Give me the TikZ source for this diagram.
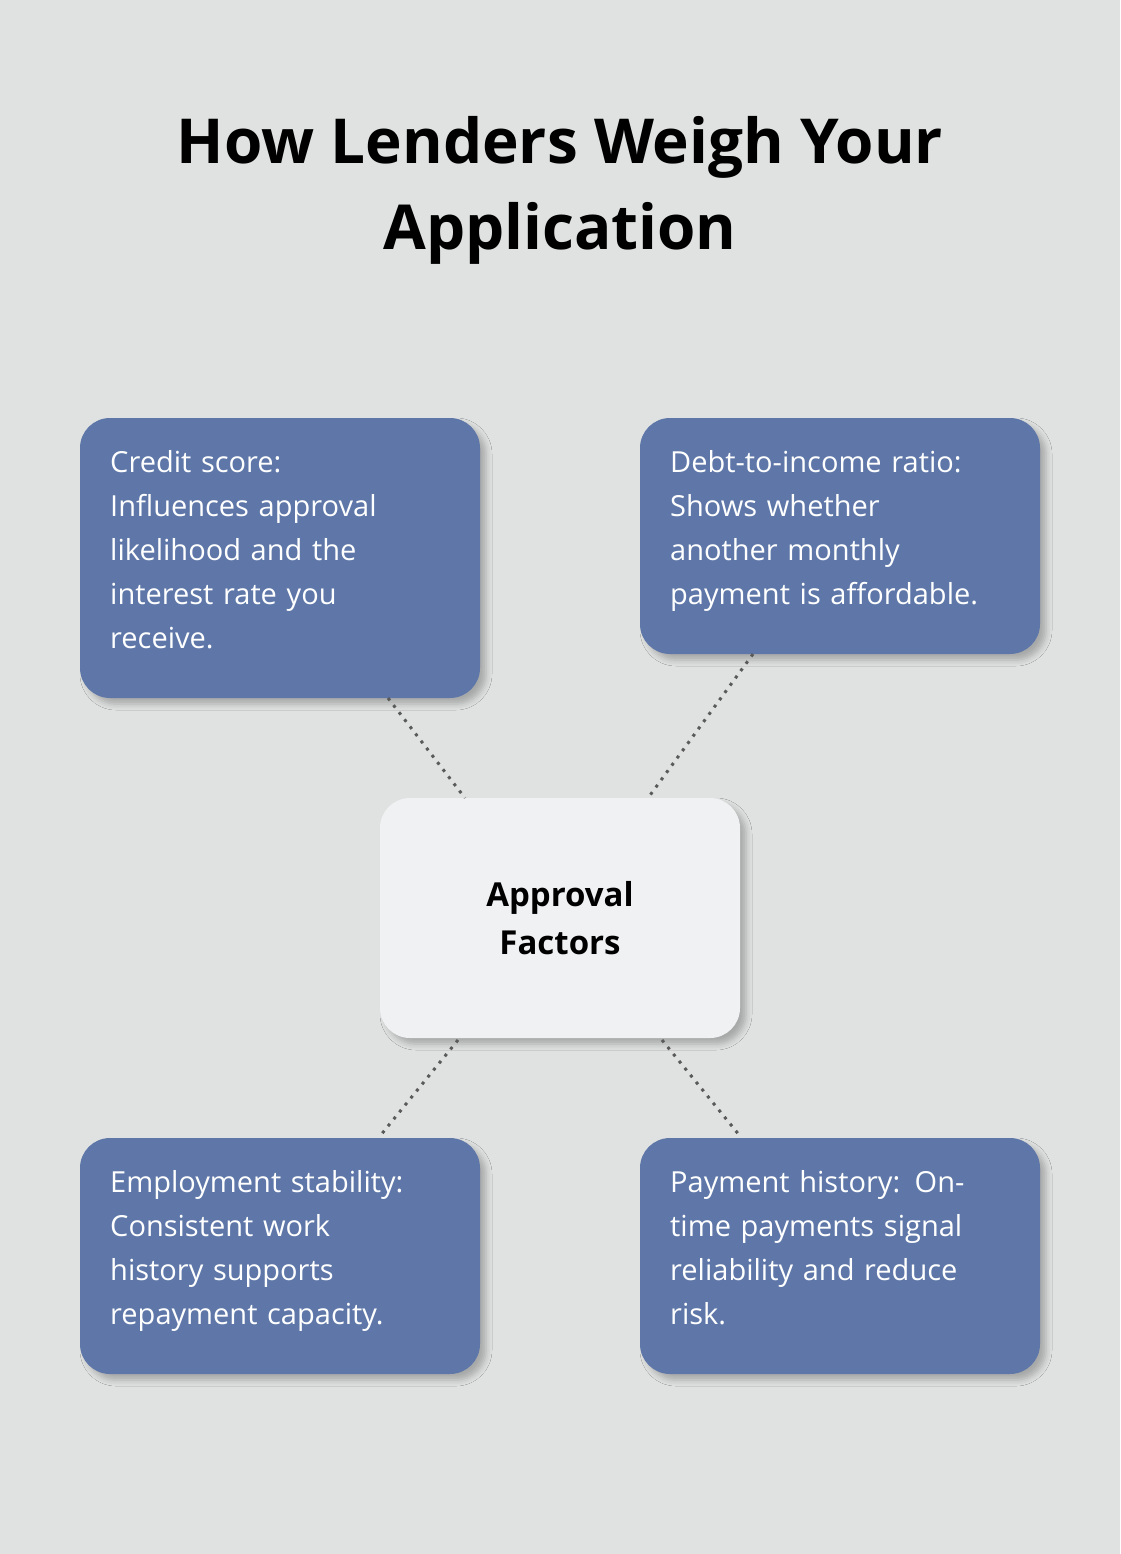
\documentclass[tikz,border=0pt]{standalone}
\usepackage{fontspec}
\setmainfont{Open Sans}
\usetikzlibrary{shadows.blur}
\definecolor{bg}{HTML}{E0E2E1}
\definecolor{box}{HTML}{5E77A8}
\definecolor{ctr}{HTML}{F0F1F3}
\definecolor{dots}{HTML}{5A5A5A}
\begin{document}
\begin{tikzpicture}[x=1pt,y=-1pt,
  card/.style={fill=box,rounded corners=30pt,blur shadow={shadow xshift=6pt,shadow yshift=-6pt,shadow opacity=25,shadow blur radius=6pt}},
  txt/.style={anchor=north west,text=white,text width=360pt,align=left,inner sep=0pt,font=\fontsize{29}{44}\selectfont},
  conn/.style={draw=dots,line width=3pt,dash pattern=on 3pt off 6pt}]
\fill[bg] (0,0) rectangle (1120,1554);
\useasboundingbox (0,0) rectangle (1120,1554);
\node[font=\fontsize{62}{86}\selectfont\bfseries,align=center] (title) at (560,190) {How Lenders Weigh Your\\Application};
\path[card] (80,418) rectangle (480,698);
\path[card] (640,418) rectangle (1040,654);
\path[card] (80,1138) rectangle (480,1374);
\path[card] (640,1138) rectangle (1040,1374);
\path[card,fill=ctr] (380,798) rectangle (740,1038);
\node[txt] (a) at (110,450) {Credit score:\\Influences approval\\likelihood and the\\interest rate you\\receive.};
\node[txt] (b) at (670,450) {Debt-to-income ratio:\\Shows whether\\another monthly\\payment is affordable.};
\node[txt] (c) at (110,1170) {Employment stability:\\Consistent work\\history supports\\repayment capacity.};
\node[txt] (d) at (670,1170) {Payment history: On-\\time payments signal\\reliability and reduce\\risk.};
\node[font=\fontsize{33}{48}\selectfont\bfseries,align=center] (ctr) at (560,918) {Approval\\Factors};
\coordinate (a1) at (388,698); \coordinate (a2) at (465,798);
\coordinate (b1) at (753,654); \coordinate (b2) at (648,798);
\coordinate (c1) at (458,1040); \coordinate (c2) at (380,1136);
\coordinate (d1) at (662,1040); \coordinate (d2) at (740,1136);
\draw[conn] (a1)--(a2); \draw[conn] (b1)--(b2);
\draw[conn] (c1)--(c2); \draw[conn] (d1)--(d2);
\end{tikzpicture}
\end{document}
